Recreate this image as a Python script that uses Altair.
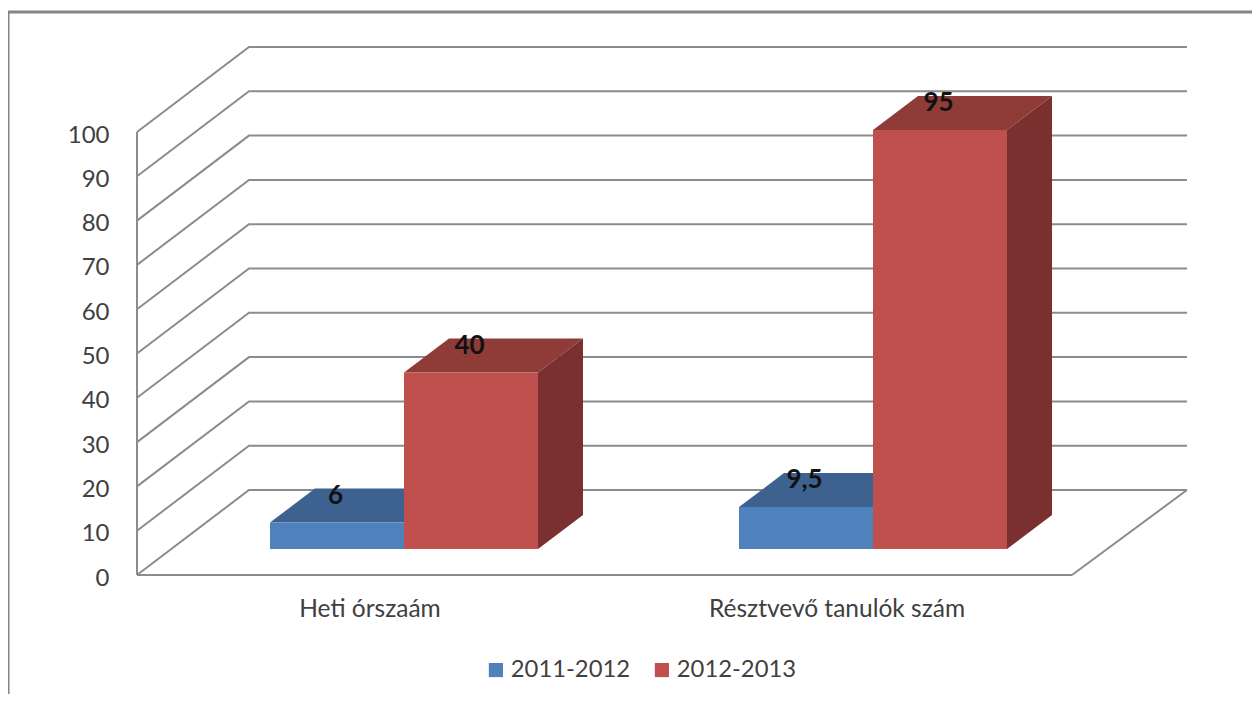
import altair as alt
import pandas as pd

# --- chart values ---
categories = ["Heti órszaám", "Résztvevő tanulók szám"]
series = ["2011-2012", "2012-2013"]
values_2011 = [6, 9.5]
values_2012 = [40, 95]
y_ticks = list(range(0, 101, 10))
colors_front = ["#4F81BD", "#C0504D"]
colors_top = ["#3E6290", "#8F3C39"]
colors_side = ["#34547A", "#7A302E"]
grid_color = "#8C8C8C"
text_color = "#404040"
font = "Lato"

# --- oblique projection, in x units (pixels) and y units (axis values) ---
W, H = 1050, 528
UNIT = 4.43
Y_MAX = H / UNIT
DX, DY = 112, 85 / UNIT          # wall depth
BDX, BDY = 45, 34 / UNIT         # bar depth
BASE = 26 / UNIT                 # bars stand this far behind the front edge
BAR_SCALE = 4.41 / UNIT
FLOOR_W = 935
BAR_W = 134
CAT_START = [133, 602]

front, tops, sides, labels = [], [], [], []
for c, cat in enumerate(categories):
    vals = [values_2011[c], values_2012[c]]
    for s, name in enumerate(series):
        v = vals[s]
        a = CAT_START[c] + s * BAR_W
        b = a + BAR_W
        top = BASE + v * BAR_SCALE
        fid = f"{c}-{s}"
        front.append(dict(series=name, order=s, x=a, x2=b, y=BASE, y2=top))
        tops += [
            dict(face=fid, fill=colors_top[s], s=s, x=a, y=top, y2=top),
            dict(face=fid, fill=colors_top[s], s=s, x=a + BDX, y=top + BDY, y2=top),
            dict(face=fid, fill=colors_top[s], s=s, x=b, y=top + BDY, y2=top),
            dict(face=fid, fill=colors_top[s], s=s, x=b + BDX, y=top + BDY, y2=top + BDY),
        ]
        if s == 1:
            sides += [
                dict(face=fid, fill=colors_side[s], x=b, y=BASE, y2=top),
                dict(face=fid, fill=colors_side[s], x=b + BDX, y=BASE + BDY, y2=top + BDY),
            ]
        labels.append(dict(x=(a + b) / 2 - 1.5, y=top + 27 / UNIT, t=str(v).replace(".", ",")))

grid = []
for t in y_ticks:
    grid += [dict(k=t, x=0, y=t), dict(k=t, x=DX, y=t + DY), dict(k=t, x=W, y=t + DY)]
grid += [dict(k="f", x=0, y=0), dict(k="f", x=FLOOR_W, y=0),
         dict(k="r", x=FLOOR_W, y=0), dict(k="r", x=W, y=DY)]

x_scale = alt.Scale(domain=[0, W], range=[0, W], nice=False, zero=False)
y_scale = alt.Scale(domain=[0, Y_MAX], nice=False, zero=False)
y_axis = alt.Axis(
    values=y_ticks, title=None, domain=False, ticks=False, grid=False,
    labelFont=font, labelFontSize=24, labelColor=text_color,
    labelPadding=28, labelOffset=3)
X = alt.X("x:Q", scale=x_scale, axis=None)
Y = alt.Y("y:Q", scale=y_scale, stack=None, axis=y_axis)

grid_layer = alt.Chart(pd.DataFrame(grid)).mark_line(color=grid_color, strokeWidth=2).encode(
    x=X, y=Y, detail="k:N",
)
y_wall = alt.Chart(pd.DataFrame({"y": [0], "y2": [100]})).mark_rule(color=grid_color, strokeWidth=2).encode(
    x=alt.value(0), y=Y, y2="y2:Q")

top_layer = alt.Chart(pd.DataFrame(tops)).mark_area().encode(
    x=X, y=Y, y2="y2:Q", color=alt.Color("fill:N", scale=None), detail="face:N")
side_layer = alt.Chart(pd.DataFrame(sides)).mark_area().encode(
    x=X, y=Y, y2="y2:Q", color=alt.Color("fill:N", scale=None), detail="face:N")
front_layer = alt.Chart(pd.DataFrame(front)).mark_rect().encode(
    x=X, x2="x2:Q", y=Y, y2="y2:Q",
    order="order:Q",
    color=alt.Color("series:N", scale=alt.Scale(domain=series, range=colors_front),
                    legend=alt.Legend(title=None, orient="none", direction="horizontal",
                                      legendX=347, legendY=611, symbolType="square",
                                      symbolSize=200, symbolStrokeWidth=0, symbolOpacity=1,
                                      labelFont=font, labelFontSize=23.8, labelColor=text_color,
                                      columnPadding=19, labelOffset=3)),
)
label_layer = alt.Chart(pd.DataFrame(labels)).mark_text(
    font=font, fontSize=26, fontWeight="bold", color="#111111", baseline="middle", align="center"
).encode(x=X, y=Y, text="t:N")

cat_df = pd.DataFrame({"t": categories, "x": [233, 700]})
cat_layer = alt.Chart(cat_df).mark_text(
    font=font, fontSize=24.5, color=text_color, baseline="middle", align="center"
).encode(x=X, y=alt.value(563), text="t:N")

frame_left = alt.Chart(pd.DataFrame({"a": [0]})).mark_rule(color="#848484", strokeWidth=3).encode(
    x=alt.value(-129), y=alt.value(-35), y2=alt.value(655))
frame_top = alt.Chart(pd.DataFrame({"a": [0]})).mark_rule(color="#848484", strokeWidth=3).encode(
    x=alt.value(-129), x2=alt.value(1123), y=alt.value(-35))

chart = alt.layer(
    grid_layer, y_wall, top_layer, side_layer, front_layer, label_layer, cat_layer, frame_left, frame_top
).resolve_scale(color="independent").properties(
    width=W, height=H,
    autosize="none",
    padding={"left": 129, "top": 39, "right": 65, "bottom": 119},
    background="white",
).configure_view(stroke=None)

chart.save("out.html", embed_options={"renderer": "svg", "actions": False})
